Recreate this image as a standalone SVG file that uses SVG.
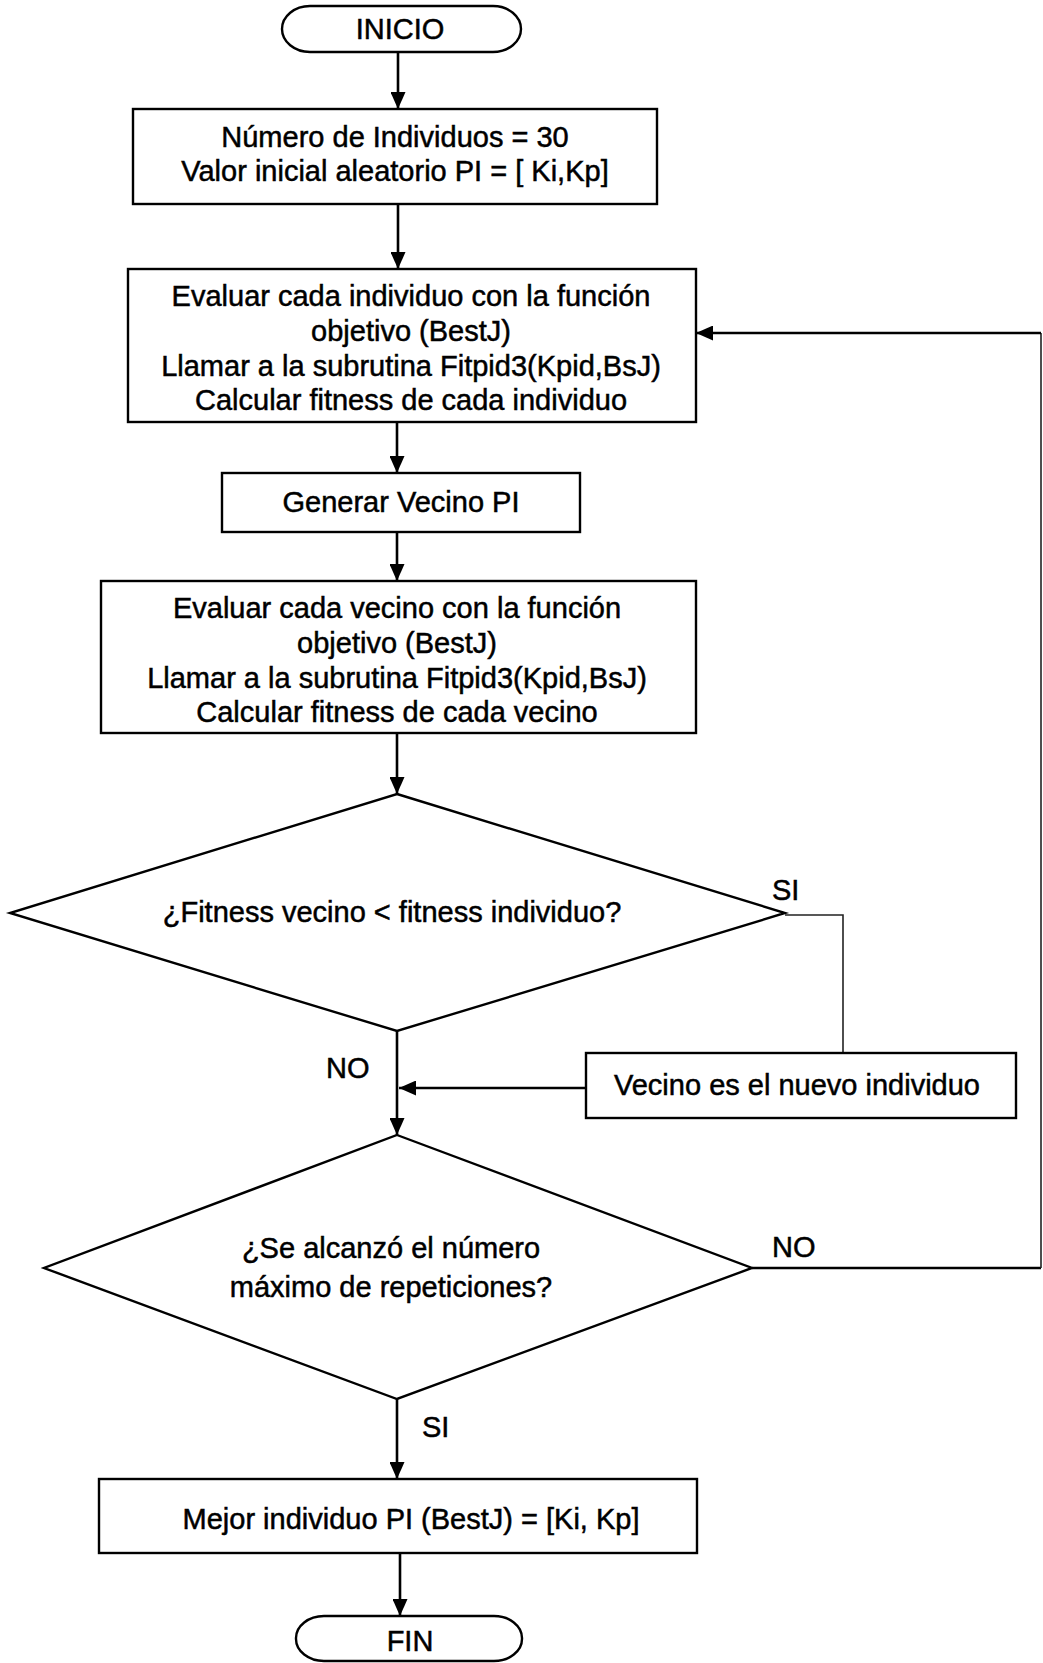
<svg xmlns="http://www.w3.org/2000/svg" width="1043" height="1663" viewBox="0 0 1043 1663">
  <style>
    .shape { fill: #ffffff; stroke: #000000; stroke-width: 2.4; }
    .lbl { font-family: "Liberation Sans", Arial, sans-serif; font-size: 29px; fill: #000000; stroke: #000000; stroke-width: 0.5; }
    .mid { text-anchor: middle; }
    .wire { fill: none; stroke: #000000; stroke-width: 2.6; }
    .thin { fill: none; stroke: #222222; stroke-width: 1.6; }
  </style>
  <defs>
    <marker id="arrow" viewBox="0 0 17 15" refX="17" refY="7.5" markerWidth="17" markerHeight="15" markerUnits="userSpaceOnUse" orient="auto">
      <path d="M0,0 L17,7.5 L0,15 Z" fill="#000000"/>
    </marker>
  </defs>
  <rect width="1043" height="1663" fill="#ffffff"/>

  <!-- connectors -->
  <g id="connectors">
    <line class="wire" x1="398" y1="52" x2="398" y2="109" marker-end="url(#arrow)"/>
    <line class="wire" x1="398" y1="204" x2="398" y2="269" marker-end="url(#arrow)"/>
    <line class="wire" x1="397" y1="422" x2="397" y2="473" marker-end="url(#arrow)"/>
    <line class="wire" x1="397" y1="532" x2="397" y2="581" marker-end="url(#arrow)"/>
    <line class="wire" x1="397" y1="733" x2="397" y2="794" marker-end="url(#arrow)"/>
    <!-- SI branch of first decision -->
    <polyline class="thin" points="785,915 843,915 843,1053"/>
    <line class="wire" x1="586" y1="1088" x2="399" y2="1088" marker-end="url(#arrow)"/>
    <!-- NO branch of first decision -->
    <line class="wire" x1="397" y1="1031" x2="397" y2="1135" marker-end="url(#arrow)"/>
    <!-- NO branch of second decision: loop back -->
    <line class="wire" x1="752" y1="1268" x2="1041" y2="1268"/>
    <line class="thin" x1="1041" y1="1268" x2="1041" y2="333"/>
    <line class="wire" x1="1041" y1="333" x2="696" y2="333" marker-end="url(#arrow)"/>
    <!-- SI branch of second decision -->
    <line class="wire" x1="397" y1="1399" x2="397" y2="1479" marker-end="url(#arrow)"/>
    <line class="wire" x1="400" y1="1553" x2="400" y2="1616" marker-end="url(#arrow)"/>
    <text class="lbl" x="772" y="900">SI</text>
    <text class="lbl" x="326" y="1078">NO</text>
    <text class="lbl" x="772" y="1257">NO</text>
    <text class="lbl" x="422" y="1437">SI</text>
  </g>

  <g id="inicio">
    <rect class="shape" x="282" y="6" width="239" height="46" rx="28" ry="23"/>
    <text class="lbl mid" x="400" y="39">INICIO</text>
  </g>

  <g id="init-population">
    <rect class="shape" x="133" y="109" width="524" height="95"/>
    <text class="lbl mid" x="395" y="147">Número de Individuos = 30</text>
    <text class="lbl mid" x="395" y="181">Valor inicial aleatorio PI = [ Ki,Kp]</text>
  </g>

  <g id="eval-individuals">
    <rect class="shape" x="128" y="269" width="568" height="153"/>
    <text class="lbl mid" x="411" y="306">Evaluar cada individuo con  la función</text>
    <text class="lbl mid" x="411" y="341">objetivo (BestJ)</text>
    <text class="lbl mid" x="411" y="376">Llamar a la subrutina Fitpid3(Kpid,BsJ)</text>
    <text class="lbl mid" x="411" y="410">Calcular fitness de cada  individuo</text>
  </g>

  <g id="generate-neighbour">
    <rect class="shape" x="222" y="473" width="358" height="59"/>
    <text class="lbl mid" x="401" y="512">Generar Vecino PI</text>
  </g>

  <g id="eval-neighbours">
    <rect class="shape" x="101" y="581" width="595" height="152"/>
    <text class="lbl mid" x="397" y="618">Evaluar cada vecino con  la función</text>
    <text class="lbl mid" x="397" y="653">objetivo (BestJ)</text>
    <text class="lbl mid" x="397" y="688">Llamar a la subrutina Fitpid3(Kpid,BsJ)</text>
    <text class="lbl mid" x="397" y="722">Calcular fitness de cada vecino</text>
  </g>

  <g id="compare-fitness">
    <polygon class="shape" points="397,794 785,913 397,1031 10,913"/>
    <text class="lbl mid" x="392" y="922">¿Fitness vecino &lt; fitness individuo?</text>
  </g>

  <g id="replace-individual">
    <rect class="shape" x="586" y="1053" width="430" height="65"/>
    <text class="lbl mid" x="797" y="1095">Vecino es el nuevo individuo</text>
  </g>

  <g id="max-iterations">
    <polygon class="shape" points="397,1135 752,1268 397,1399 44,1268"/>
    <text class="lbl mid" x="391" y="1258">¿Se alcanzó el número</text>
    <text class="lbl mid" x="391" y="1297">máximo de repeticiones?</text>
  </g>

  <g id="best-individual">
    <rect class="shape" x="99" y="1479" width="598" height="74"/>
    <text class="lbl mid" x="411" y="1529">Mejor individuo PI (BestJ) = [Ki, Kp]</text>
  </g>

  <g id="fin">
    <rect class="shape" x="296" y="1616" width="226" height="45" rx="28" ry="22"/>
    <text class="lbl mid" x="410" y="1651">FIN</text>
  </g>
</svg>
